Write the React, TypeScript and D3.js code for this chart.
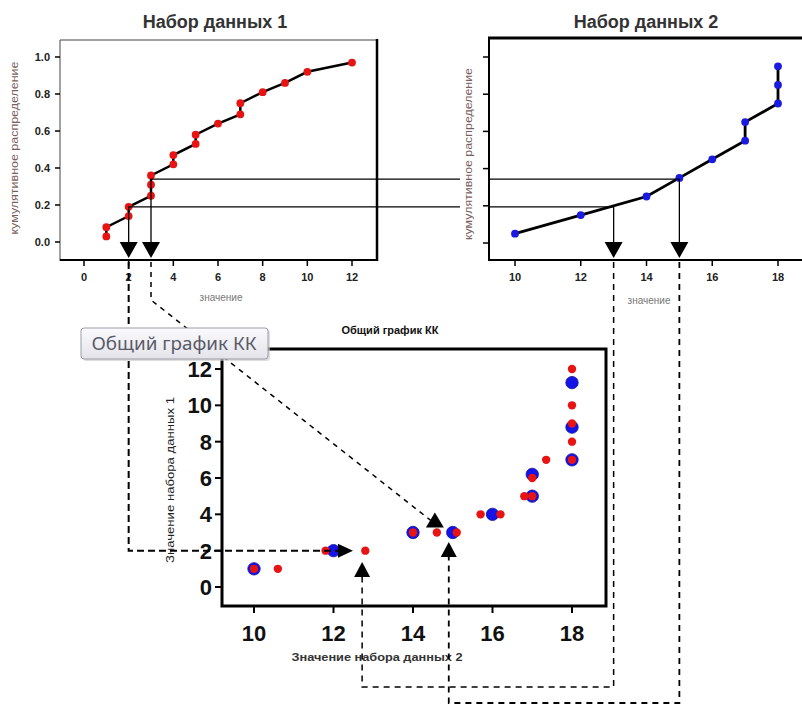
import React from "react";
import * as d3 from "d3";

// ---- data ----
const set1Values = [1, 1, 2, 2, 3, 3, 3, 4, 4, 5, 5, 6, 7, 7, 8, 9, 10, 12];
const set1Cdf = [0.03, 0.08, 0.14, 0.19, 0.25, 0.31, 0.36, 0.42, 0.47, 0.53, 0.58, 0.64, 0.69, 0.75, 0.81, 0.86, 0.92, 0.97];
const set2Values = [10, 12, 14, 15, 16, 17, 17, 18, 18, 18];
const set2Cdf = [0.05, 0.15, 0.25, 0.35, 0.45, 0.55, 0.65, 0.75, 0.85, 0.95];
const qqBlueX = [10, 12, 14, 15, 16, 17, 17, 18, 18, 18];
const qqBlueY = [1, 2, 3, 3, 4, 5, 6.2, 7, 8.8, 11.25];
const qqRedX = [10, 10.6, 11.8, 12.8, 14, 14.6, 15.1, 15.7, 16.2, 16.8, 17, 17, 17.35, 18, 18, 18, 18, 18];
const qqRedY = [1, 1, 2, 2, 3, 3, 3, 4, 4, 5, 5, 6, 7, 7, 8, 9, 10, 12];

const plot1XTicks = [0, 2, 4, 6, 8, 10, 12];
const plot2XTicks = [10, 12, 14, 16, 18];
const cdfTicks = [0, 0.2, 0.4, 0.6, 0.8, 1.0];
const qqXTicks = [10, 12, 14, 16, 18];
const qqYTicks = [0, 2, 4, 6, 8, 10, 12];

// reference levels (cdf) and the matching values
const refLevels = [0.19, 0.34];
const refSet1 = [2, 3];
const refSet2 = [13, 15];

const title1 = "Набор данных 1";
const title2 = "Набор данных 2";
const titleQQ = "Общий график КК";
const cdfLabel = "кумулятивное распределение";
const valueLabel = "значение";
const qqXLabel = "Значение набора данных 2";
const qqYLabel = "Значение набора данных 1";
const tooltipText = "Общий график КК";

const FONT = "'Liberation Sans', Arial, sans-serif";

function tri(tx: number, ty: number, dir: "down" | "up" | "right", len: number, hw: number) {
  if (dir === "down") return `M${tx},${ty}L${tx - hw},${ty - len}L${tx + hw},${ty - len}Z`;
  if (dir === "up") return `M${tx},${ty}L${tx - hw},${ty + len}L${tx + hw},${ty + len}Z`;
  return `M${tx},${ty}L${tx - len},${ty - hw}L${tx - len},${ty + hw}Z`;
}

export default function App() {
  const x1 = d3.scaleLinear().domain([0, 12]).range([84, 352]);
  const y1 = d3.scaleLinear().domain([0, 1]).range([242, 57]);
  const x2 = d3.scaleLinear().domain([10, 18]).range([515, 778]);
  const y2 = d3.scaleLinear().domain([0, 1]).range([243, 57]);
  const xq = d3.scaleLinear().domain([10, 18]).range([254, 572]);
  const yq = d3.scaleLinear().domain([0, 12]).range([587, 369]);
  const fmt = d3.format(".1f");

  const line1 = d3.line<number>().x((d) => x1(d)).y((_, i) => y1(set1Cdf[i]));
  const line2 = d3.line<number>().x((d) => x2(d)).y((_, i) => y2(set2Cdf[i]));

  const arrowTop = 258;
  const yA = y1(refLevels[0]);
  const yB = y1(refLevels[1]);
  const ax1 = x1(refSet1[0]);
  const bx1 = x1(refSet1[1]);
  const ax2 = x2(refSet2[0]);
  const bx2 = x2(refSet2[1]);

  // qq arrow targets
  const tipA = { x: xq(12.49), y: yq(2) };
  const tipB = { x: xq(14.55), y: yq(4.1) };
  const tipC = { x: xq(12.72), y: yq(1.38) };
  const tipD = { x: xq(14.9), y: yq(2.48) };

  return (
    <svg width={802} height={705} style={{ position: "absolute", left: 0, top: 0, background: "#fff" }} fontFamily={FONT}>
      <rect width={802} height={705} fill="#fff" />

      {/* ---------- Plot 1 ---------- */}
      <text x={215} y={28} textAnchor="middle" fontSize={18} fontWeight="bold" fill="#333">{title1}</text>
      <line x1={60} y1={40} x2={377} y2={40} stroke="#444" strokeWidth={1} />
      <line x1={60} y1={40} x2={60} y2={261} stroke="#444" strokeWidth={1} />
      <line x1={60} y1={260} x2={378} y2={260} stroke="#000" strokeWidth={2} />
      <line x1={377} y1={39} x2={377} y2={261} stroke="#000" strokeWidth={2.5} />
      {plot1XTicks.map((t) => (
        <g key={"p1x" + t}>
          <line x1={x1(t)} x2={x1(t)} y1={260} y2={266} stroke="#000" strokeWidth={1.5} />
          <text x={x1(t)} y={281} textAnchor="middle" fontSize={11} fontWeight="bold" fill="#222">{t}</text>
        </g>
      ))}
      {cdfTicks.map((t) => (
        <g key={"p1y" + t}>
          <line x1={55} x2={60} y1={y1(t)} y2={y1(t)} stroke="#000" strokeWidth={1.5} />
          <text x={50} y={y1(t) + 4} textAnchor="end" fontSize={11} fontWeight="bold" fill="#222">{fmt(t)}</text>
        </g>
      ))}
      <text transform={`translate(18,148) rotate(-90)`} textAnchor="middle" fontSize={11} fill="#7a5f5f" textLength={173} lengthAdjust="spacingAndGlyphs">{cdfLabel}</text>
      <text x={221} y={301} textAnchor="middle" fontSize={10} fill="#777">{valueLabel}</text>
      <path d={line1(set1Values) || ""} fill="none" stroke="#000" strokeWidth={2.5} />
      {set1Values.map((v, i) => (
        <circle key={"p1p" + i} cx={x1(v)} cy={y1(set1Cdf[i])} r={3.9} fill="#e81414" />
      ))}

      {/* ---------- Plot 2 ---------- */}
      <text x={646} y={28} textAnchor="middle" fontSize={18} fontWeight="bold" fill="#333">{title2}</text>
      <line x1={488} y1={38} x2={802} y2={38} stroke="#000" strokeWidth={3} />
      <line x1={489} y1={38} x2={489} y2={261} stroke="#000" strokeWidth={2} />
      <line x1={488} y1={260} x2={802} y2={260} stroke="#000" strokeWidth={2} />
      {plot2XTicks.map((t) => (
        <g key={"p2x" + t}>
          <line x1={x2(t)} x2={x2(t)} y1={260} y2={266} stroke="#000" strokeWidth={1.5} />
          <text x={x2(t)} y={281} textAnchor="middle" fontSize={11} fontWeight="bold" fill="#222">{t}</text>
        </g>
      ))}
      {cdfTicks.map((t) => (
        <line key={"p2y" + t} x1={483} x2={489} y1={y2(t)} y2={y2(t)} stroke="#000" strokeWidth={1.5} />
      ))}
      <text transform={`translate(472,154) rotate(-90)`} textAnchor="middle" fontSize={11} fill="#7a5f5f" textLength={172} lengthAdjust="spacingAndGlyphs">{cdfLabel}</text>
      <text x={649} y={304} textAnchor="middle" fontSize={10} fill="#777">{valueLabel}</text>
      <path d={line2(set2Values) || ""} fill="none" stroke="#000" strokeWidth={2.8} />
      {set2Values.map((v, i) => (
        <circle key={"p2p" + i} cx={x2(v)} cy={y2(set2Cdf[i])} r={3.9} fill="#1a1ae0" />
      ))}

      {/* ---------- reference lines & solid arrows ---------- */}
      <line x1={ax1} y1={yA} x2={460} y2={yA} stroke="#000" strokeWidth={1.2} />
      <line x1={489} y1={yA} x2={ax2} y2={yA} stroke="#000" strokeWidth={1.2} />
      <line x1={bx1} y1={yB} x2={460} y2={yB} stroke="#000" strokeWidth={1.2} />
      <line x1={489} y1={yB} x2={bx2} y2={yB} stroke="#000" strokeWidth={1.2} />
      {[[ax1, yA], [bx1, yB], [ax2, yA], [bx2, yB]].map(([x, y], i) => (
        <g key={"va" + i}>
          <line x1={x} y1={y} x2={x} y2={arrowTop - 10} stroke="#000" strokeWidth={1.3} />
          <path d={tri(x, arrowTop, "down", 16, 9)} fill="#000" />
        </g>
      ))}

      {/* ---------- QQ plot ---------- */}
      <text x={390} y={334} textAnchor="middle" fontSize={11} fontWeight="bold" fill="#111">{titleQQ}</text>
      <rect x={222} y={349} width={384} height={257} fill="none" stroke="#000" strokeWidth={3} />
      {qqYTicks.map((t) => (
        <g key={"qy" + t}>
          <line x1={215} x2={222} y1={yq(t)} y2={yq(t)} stroke="#000" strokeWidth={2} />
          <text x={212} y={yq(t) + 8} textAnchor="end" fontSize={22} fontWeight="bold" fill="#111">{t}</text>
        </g>
      ))}
      {qqXTicks.map((t) => (
        <g key={"qx" + t}>
          <line x1={xq(t)} x2={xq(t)} y1={606} y2={613} stroke="#000" strokeWidth={2} />
          <text x={xq(t)} y={641} textAnchor="middle" fontSize={22} fontWeight="bold" fill="#111">{t}</text>
        </g>
      ))}
      <text x={377} y={661} textAnchor="middle" fontSize={11} fontWeight="bold" fill="#333" textLength={171} lengthAdjust="spacingAndGlyphs">{qqXLabel}</text>
      <text transform={`translate(174,480) rotate(-90)`} textAnchor="middle" fontSize={11} fill="#222" textLength={166} lengthAdjust="spacingAndGlyphs">{qqYLabel}</text>
      {qqBlueX.map((v, i) => (
        <circle key={"qb" + i} cx={xq(v)} cy={yq(qqBlueY[i])} r={6.2} fill="#1414e6" stroke="#1010a0" strokeWidth={0.8} />
      ))}
      {qqRedX.map((v, i) => (
        <circle key={"qr" + i} cx={xq(v)} cy={yq(qqRedY[i])} r={4.2} fill="#e81414" />
      ))}

      {/* ---------- dashed connectors ---------- */}
      <path d={`M${ax1},262 L${ax1},${tipA.y} L${tipA.x - 14},${tipA.y}`} fill="none" stroke="#000" strokeWidth={2} strokeDasharray="7,4" />
      <path d={tri(tipA.x, tipA.y, "right", 15, 7)} fill="#000" />
      <path d={`M${bx1},262 L${bx1},300 L${tipB.x - 4},${tipB.y + 8}`} fill="none" stroke="#000" strokeWidth={1.5} strokeDasharray="5,5" />
      <path d={tri(tipB.x, tipB.y, "up", 15, 9)} fill="#000" />
      <path d={`M${ax2},262 L${ax2},687 L${tipC.x},687 L${tipC.x},${tipC.y + 14}`} fill="none" stroke="#000" strokeWidth={1.5} strokeDasharray="6,5" />
      <path d={tri(tipC.x, tipC.y, "up", 15, 8)} fill="#000" />
      <path d={`M${bx2},262 L${bx2},703 L${tipD.x},703 L${tipD.x},${tipD.y + 14}`} fill="none" stroke="#000" strokeWidth={1.8} strokeDasharray="6,5" />
      <path d={tri(tipD.x, tipD.y, "up", 15, 8)} fill="#000" />

      {/* ---------- tooltip ---------- */}
      <defs>
        <linearGradient id="tipg" x1="0" y1="0" x2="0" y2="1">
          <stop offset="0" stopColor="#fbfbfd" />
          <stop offset="1" stopColor="#e3e3ea" />
        </linearGradient>
      </defs>
      <rect x={83} y={330} width={187} height={31} rx={3} fill="#c8c8cc" opacity={0.6} />
      <rect x={81} y={328} width={187} height={31} rx={3} fill="url(#tipg)" stroke="#9b9ba6" strokeWidth={1} />
      <text x={174} y={350} textAnchor="middle" fontSize={18} fill="#5a5a68" fontFamily="'Noto Sans', 'Open Sans', sans-serif" textLength={165} lengthAdjust="spacingAndGlyphs">{tooltipText}</text>
    </svg>
  );
}
